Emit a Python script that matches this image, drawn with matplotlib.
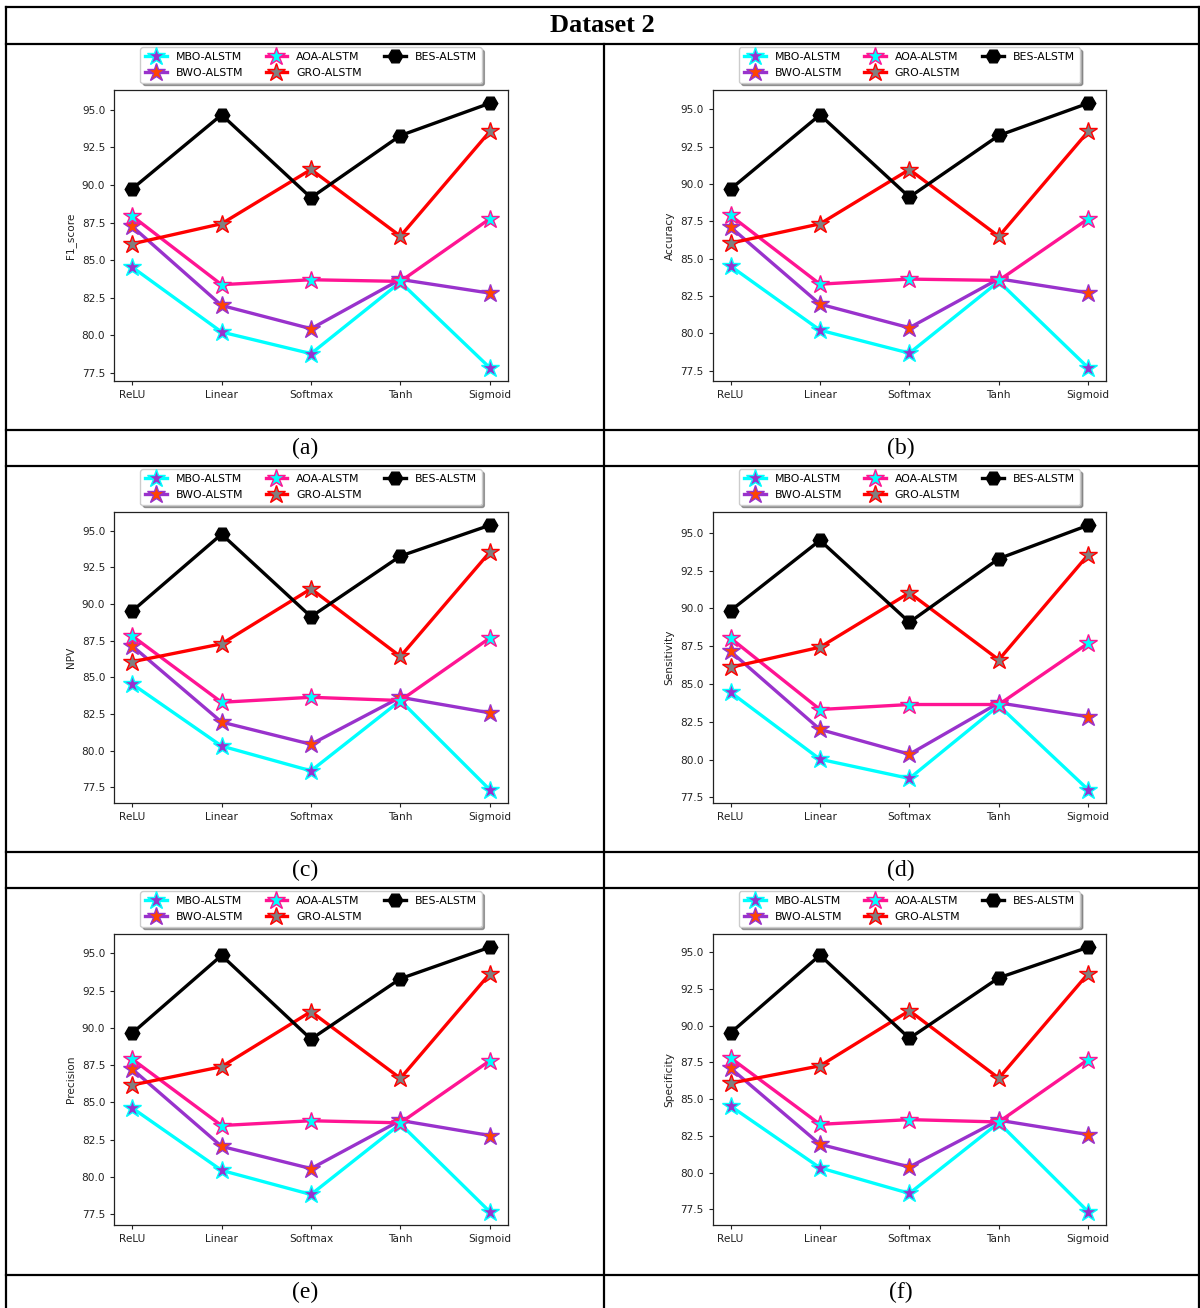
import matplotlib
matplotlib.use("Agg")
import matplotlib.pyplot as plt
from matplotlib.lines import Line2D

# Activation functions on the x axis
activations = ["ReLU", "Linear", "Softmax", "Tanh", "Sigmoid"]

# Model names (legend order)
models = ["MBO-ALSTM", "BWO-ALSTM", "AOA-ALSTM", "GRO-ALSTM", "BES-ALSTM"]

# Metric scores per model, one list per activation order above
f1_mbo = [84.53, 80.21, 78.77, 83.53, 77.83]
f1_bwo = [87.24, 81.98, 80.43, 83.71, 82.80]
f1_aoa = [87.93, 83.36, 83.69, 83.58, 87.75]
f1_gro = [86.08, 87.42, 91.03, 86.59, 93.56]
f1_bes = [89.74, 94.67, 89.15, 93.29, 95.44]

acc_mbo = [84.51, 80.22, 78.68, 83.48, 77.70]
acc_bwo = [87.12, 81.96, 80.38, 83.66, 82.72]
acc_aoa = [87.90, 83.30, 83.64, 83.55, 87.68]
acc_gro = [86.05, 87.34, 90.98, 86.50, 93.53]
acc_bes = [89.67, 94.64, 89.13, 93.26, 95.42]

npv_mbo = [84.55, 80.32, 78.63, 83.42, 77.34]
npv_bwo = [87.14, 81.95, 80.44, 83.64, 82.58]
npv_aoa = [87.82, 83.30, 83.64, 83.42, 87.68]
npv_gro = [86.06, 87.28, 91.03, 86.42, 93.53]
npv_bes = [89.51, 94.75, 89.13, 93.26, 95.36]

sen_mbo = [84.45, 80.02, 78.75, 83.57, 78.00]
sen_bwo = [87.15, 81.99, 80.35, 83.75, 82.83]
sen_aoa = [88.03, 83.31, 83.64, 83.64, 87.70]
sen_gro = [86.10, 87.43, 91.03, 86.60, 93.55]
sen_bes = [89.85, 94.50, 89.08, 93.29, 95.50]

pre_mbo = [84.63, 80.44, 78.82, 83.56, 77.66]
pre_bwo = [87.24, 82.05, 80.56, 83.79, 82.78]
pre_aoa = [87.91, 83.45, 83.77, 83.63, 87.80]
pre_gro = [86.17, 87.40, 91.10, 86.62, 93.64]
pre_bes = [89.65, 94.87, 89.25, 93.31, 95.42]

spe_mbo = [84.53, 80.33, 78.59, 83.40, 77.34]
spe_bwo = [87.11, 81.93, 80.39, 83.57, 82.59]
spe_aoa = [87.81, 83.29, 83.61, 83.45, 87.70]
spe_gro = [86.09, 87.27, 91.02, 86.43, 93.55]
spe_bes = [89.51, 94.80, 89.14, 93.26, 95.34]

metric_names = ["F1_score", "Accuracy", "NPV", "Sensitivity", "Precision", "Specificity"]
captions = ["(a)", "(b)", "(c)", "(d)", "(e)", "(f)"]
panels = [
    [f1_mbo, f1_bwo, f1_aoa, f1_gro, f1_bes],
    [acc_mbo, acc_bwo, acc_aoa, acc_gro, acc_bes],
    [npv_mbo, npv_bwo, npv_aoa, npv_gro, npv_bes],
    [sen_mbo, sen_bwo, sen_aoa, sen_gro, sen_bes],
    [pre_mbo, pre_bwo, pre_aoa, pre_gro, pre_bes],
    [spe_mbo, spe_bwo, spe_aoa, spe_gro, spe_bes],
]

# line colour, marker, marker face, marker edge
styles = [
    dict(color="cyan", marker="*", mfc="darkorchid", mec="cyan"),
    dict(color="darkorchid", marker="*", mfc="orangered", mec="darkorchid"),
    dict(color="deeppink", marker="*", mfc="cyan", mec="deeppink"),
    dict(color="red", marker="*", mfc="gray", mec="red"),
    dict(color="black", marker="H", mfc="black", mec="black"),
]

W, H = 1200, 1308
fig = plt.figure(figsize=(W / 100, H / 100), dpi=100)
fig.patch.set_facecolor("white")


def px_rect(left, top, right, bottom):
    return [left / W, 1 - bottom / H, (right - left) / W, (bottom - top) / H]


def hline(y, x0, x1, lw=1.6):
    fig.add_artist(Line2D([x0 / W, x1 / W], [1 - y / H, 1 - y / H],
                          color="black", lw=lw, transform=fig.transFigure))


def vline(x, y0, y1, lw=1.6):
    fig.add_artist(Line2D([x / W, x / W], [1 - y0 / H, 1 - y1 / H],
                          color="black", lw=lw, transform=fig.transFigure))


# Table grid
left_x, mid_x, right_x = 5.5, 604, 1198.5
top_y, head_y = 7, 44
row_tops = [44, 466, 888]
cap_tops = [430, 852, 1275]
cap_bots = [466, 888, 1310]

hline(top_y, left_x, right_x)
hline(head_y, left_x, right_x)
for ct, cb in zip(cap_tops, cap_bots):
    hline(ct, left_x, right_x)
    hline(cb, left_x, right_x)
vline(left_x, top_y, H + 2)
vline(right_x, top_y, H + 2)
vline(mid_x, head_y, H + 2)

fig.text((left_x + right_x) / 2 / W, 1 - 25 / H, "Dataset 2", ha="center", va="center",
         family="Liberation Serif", fontweight="bold", fontsize=19)

x = list(range(len(activations)))
col_left = [114.3, 712.7]
ax_w = 393.4
for i, (series, ylabel, cap) in enumerate(zip(panels, metric_names, captions)):
    r, c = divmod(i, 2)
    top = 90 + (row_tops[r] - row_tops[0])
    bottom = top + 291
    left = col_left[c]
    ax = fig.add_axes(px_rect(left, top, left + ax_w, bottom))
    for vals, name, st in zip(series, models, styles):
        ms = 10.5 if st["marker"] == "H" else 13.5
        ax.plot(x, vals, label=name, lw=2.4, ms=ms, mew=1.0, **st)
    ax.set_xticks(x)
    ax.set_xticklabels(activations)
    ax.tick_params(labelsize=7.6, length=3, width=0.8, colors="#222222")
    ax.set_ylabel(ylabel, fontsize=7.6, color="#222222")
    for sp in ax.spines.values():
        sp.set_linewidth(0.9)
        sp.set_color("#222222")
    ax.legend(ncol=3, loc="lower center", bbox_to_anchor=(0.5, 1.025),
              borderaxespad=0, fontsize=7.9, shadow=True, fancybox=True,
              framealpha=1, edgecolor="#cccccc", handlelength=2.0,
              columnspacing=2.0, borderpad=0.45, labelspacing=0.5)
    cx = (left_x + mid_x) / 2 if c == 0 else (mid_x + right_x) / 2
    cy = (cap_tops[r] + cap_bots[r]) / 2 if r < 2 else (cap_tops[r] + 1308) / 2 + 1
    fig.text(cx / W, 1 - cy / H, cap, ha="center", va="center",
             family="Liberation Serif", fontsize=17)

fig.savefig("out.png", dpi=100, facecolor="white")
